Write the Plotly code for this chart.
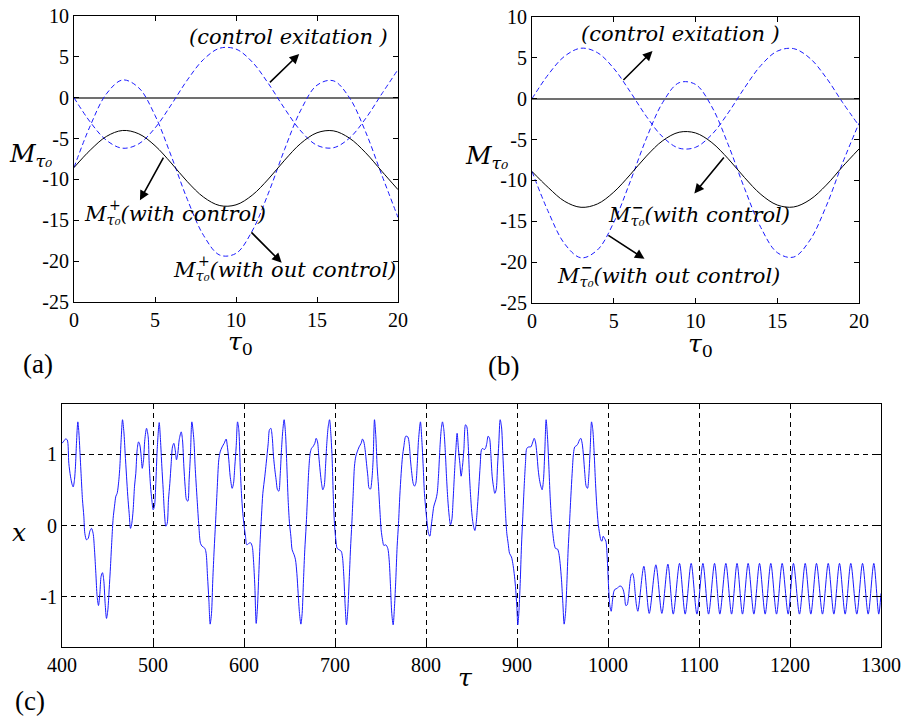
import plotly.graph_objects as go

# ---------------- panel (a) and (b) data -----------------
tau0 = [0, 1, 2, 3, 4, 5, 6, 7, 8, 9, 10, 11, 12, 13, 14, 15, 16, 17, 18, 19, 20]

a_with = [-8.55, -6.42, -4.74, -4.01, -4.42, -5.87, -7.99, -10.28, -12.17, -13.20, -13.11,
          -11.93, -9.95, -7.65, -5.59, -4.29, -4.05, -4.94, -6.73, -9.00, -11.25]
a_without = [-8.55, -3.45, 0.47, 2.17, 1.21, -2.16, -7.12, -12.46, -16.86, -19.26, -19.05,
             -16.31, -11.68, -6.32, -1.52, 1.53, 2.08, 0.01, -4.18, -9.46, -14.65]
a_exc = [0.0, -2.97, -5.21, -6.18, -5.64, -3.71, -0.87, 2.18, 4.69, 6.06, 5.95,
         4.38, 1.73, -1.33, -4.07, -5.82, -6.13, -4.95, -2.55, 0.47, 3.45]

b_with = [-8.9, -10.88, -12.56, -13.29, -12.88, -11.43, -9.31, -7.02, -5.13, -4.10, -4.19,
          -5.37, -7.35, -9.65, -11.71, -13.01, -13.25, -12.36, -10.57, -8.30, -6.15]
b_without = [-8.9, -13.85, -17.77, -19.47, -18.51, -15.14, -10.18, -4.84, -0.44, 1.96, 1.75,
             -0.99, -5.62, -10.98, -15.78, -18.83, -19.38, -17.31, -13.12, -7.84, -3.0]
b_exc = [0.0, 2.97, 5.21, 6.18, 5.64, 3.71, 0.87, -2.18, -4.69, -6.06, -5.95,
         -4.38, -1.73, 1.33, 4.07, 5.82, 6.13, 4.95, 2.55, -0.47, -3.3]

m_tickvals = [10, 5, 0, -5, -10, -15, -20, -25]
m_ticktext = ["10", "5", "0", "-5", "-10", "-15", "-20", "-25"]
tau0_tickvals = [0, 5, 10, 15, 20]

# ---------------- panel (c) data -----------------
tau_c = [
    400.0, 402.0, 403.8, 405.7, 407.5, 409.3, 411.2, 412.3, 413.7, 414.8, 415.9, 417.4, 418.5, 419.6,
    421.1, 422.5, 424.0, 425.1, 426.9, 428.8, 430.6, 432.4, 434.2, 435.7, 437.2, 438.6, 440.1, 441.6,
    443.0, 444.5, 446.0, 447.4, 448.9, 450.4, 451.8, 453.3, 454.8, 456.2, 457.7, 459.2, 460.6, 462.5,
    463.6, 465.0, 466.5, 468.0, 469.4, 470.9, 472.3, 473.8, 475.3, 476.7, 478.2, 479.7, 481.1, 482.6,
    484.1, 485.5, 487.0, 488.2, 489.6, 491.0, 492.9, 494.7, 495.8, 497.3, 498.7, 500.2, 501.6, 503.1,
    504.6, 506.8, 508.2, 509.7, 511.2, 512.6, 514.1, 515.6, 517.0, 518.5, 520.0, 521.4, 522.9, 524.4,
    525.8, 527.3, 528.8, 531.0, 532.4, 533.9, 535.3, 536.8, 538.3, 539.7, 541.2, 542.7, 544.9, 546.3,
    548.5, 550.4, 552.2, 554.0, 557.0, 558.4, 559.9, 561.4, 562.8, 564.3, 565.7, 567.2, 568.7, 570.5,
    572.3, 573.8, 576.0, 578.2, 580.4, 581.5, 583.3, 584.8, 587.0, 588.5, 589.9, 591.4, 592.9, 594.3,
    595.8, 597.2, 598.7, 600.2, 601.6, 603.1, 605.3, 607.1, 609.0, 610.4, 611.9, 613.4, 614.8, 616.3,
    617.8, 619.2, 620.7, 622.9, 624.4, 626.6, 628.0, 629.5, 631.0, 632.4, 633.9, 635.3, 636.8, 638.3,
    639.7, 641.2, 642.7, 644.1, 645.6, 647.1, 648.5, 650.0, 651.5, 652.9, 655.1, 656.6, 658.1, 659.5,
    661.0, 662.5, 663.9, 665.4, 666.8, 668.3, 669.8, 671.2, 672.7, 674.2, 675.6, 677.8, 679.3, 680.8,
    682.2, 683.7, 685.2, 686.6, 688.1, 689.6, 691.0, 692.5, 694.0, 695.4, 696.9, 698.0, 699.4, 700.9,
    702.4, 704.6, 706.8, 708.2, 709.7, 711.2, 712.6, 714.1, 715.6, 717.0, 718.5, 720.0, 721.4, 722.9,
    724.4, 726.5, 728.7, 730.2, 731.7, 733.1, 734.6, 736.1, 737.5, 739.0, 740.5, 741.9, 743.4, 744.9,
    746.3, 747.8, 749.3, 750.7, 752.2, 753.7, 755.8, 758.0, 759.5, 761.0, 762.4, 763.9, 765.4, 766.8,
    768.3, 769.8, 771.2, 772.7, 774.2, 775.6, 777.8, 780.0, 781.5, 782.9, 784.4, 785.9, 787.4, 788.8,
    790.3, 791.8, 793.9, 795.4, 796.9, 798.3, 799.8, 801.3, 802.7, 804.2, 805.7, 807.1, 808.6, 810.8,
    812.3, 813.7, 815.2, 816.7, 818.1, 819.6, 821.1, 822.5, 824.0, 825.5, 826.9, 828.4, 829.8, 831.3,
    832.8, 834.2, 835.7, 837.2, 838.6, 840.1, 841.6, 843.4, 844.9, 846.3, 847.8, 849.3, 850.7, 852.2,
    853.7, 855.1, 856.6, 858.1, 859.5, 861.0, 862.4, 863.9, 865.4, 866.8, 868.3, 869.8, 871.2, 872.7,
    874.2, 875.6, 877.1, 878.6, 880.0, 881.5, 883.0, 884.4, 885.9, 887.4, 888.8, 890.3, 891.8, 893.9,
    895.4, 896.9, 898.3, 899.8, 900.9, 902.0, 903.5, 904.9, 906.4, 907.9, 909.3, 910.8, 913.0, 915.2,
    917.4, 918.9, 920.3, 921.8, 923.3, 924.7, 926.2, 927.6, 929.1, 930.6, 932.0, 933.5, 935.0, 936.4,
    937.9, 939.4, 940.8, 942.3, 944.5, 946.0, 947.4, 948.9, 950.4, 951.8, 953.3, 954.8, 956.2, 957.7,
    959.2, 960.6, 962.1, 963.5, 965.7, 967.2, 968.7, 970.1, 971.6, 973.1, 974.5, 976.0, 977.5, 978.9,
    980.4, 981.9, 983.3, 984.8, 986.3, 987.7, 989.2, 990.7, 992.1, 993.3, 994.7, 996.2, 997.7, 999.1,
    1000.6, 1002.1, 1003.5, 1005.0, 1006.5, 1007.9, 1010.1, 1012.3, 1014.5, 1016.7, 1018.2, 1019.6,
    1021.1, 1022.6, 1024.0, 1025.5, 1027.0, 1028.4, 1029.9, 1031.4, 1032.8,
    1039.4, 1045.3, 1052.6, 1059.2, 1065.8, 1071.7, 1078.6, 1084.8, 1091.4, 1097.7, 1104.3, 1110.5,
    1117.1, 1122.9, 1129.5, 1135.8, 1141.8, 1147.8, 1154.0, 1160.3, 1166.5, 1172.7, 1178.9, 1185.2,
    1191.4, 1198.0, 1203.8, 1210.4, 1216.7, 1222.9, 1229.1, 1235.7, 1242.0, 1248.2, 1254.4, 1260.6,
    1266.8, 1273.4, 1279.7, 1285.9, 1292.1, 1297.5, 1300.0,
]
x_c = [
    1.15, 1.18, 1.21, 1.20, 0.87, 0.69, 0.57, 0.54, 0.64, 0.83, 1.15, 1.45, 1.31, 1.06,
    0.69, 0.36, 0.13, -0.11, -0.20, -0.18, -0.08, -0.04, -0.11, -0.34, -0.67, -0.99, -1.12, -0.95,
    -0.71, -0.66, -0.78, -1.09, -1.30, -1.18, -0.90, -0.57, -0.20, 0.10, 0.27, 0.41, 0.45, 0.64,
    0.83, 1.20, 1.48, 1.31, 1.01, 0.69, 0.41, 0.17, -0.04, 0.03, 0.22, 0.55, 0.73, 1.06,
    1.17, 1.13, 0.97, 0.80, 0.92, 1.20, 1.36, 1.24, 0.87, 0.55, 0.36, 0.22, 0.27, 0.59,
    1.06, 1.44, 1.20, 0.83, 0.50, 0.17, -0.01, 0.03, 0.36, 0.59, 0.87, 1.10, 1.15, 1.06,
    0.92, 1.01, 1.20, 1.31, 1.20, 0.83, 0.55, 0.36, 0.34, 0.64, 1.01, 1.45, 1.20, 0.83,
    0.36, -0.01, -0.25, -0.29, -0.32, -0.39, -0.71, -1.04, -1.38, -1.23, -0.76, -0.34, 0.03, 0.50,
    0.92, 1.03, 1.10, 1.15, 1.21, 1.13, 0.92, 0.69, 0.52, 0.59, 0.83, 1.10, 1.45, 1.34,
    0.83, 0.45, 0.17, -0.01, -0.15, -0.27, -0.25, -0.24, -0.29, -0.48, -0.85, -1.37, -1.14, -0.67,
    -0.20, 0.13, 0.45, 0.69, 0.87, 1.15, 1.34, 1.36, 1.24, 0.97, 0.78, 0.64, 0.50, 0.48,
    0.69, 1.06, 1.34, 1.48, 1.29, 0.83, 0.36, 0.03, -0.15, -0.34, -0.41, -0.48, -0.67, -0.95,
    -1.23, -1.38, -1.23, -0.76, -0.34, -0.01, 0.41, 0.78, 1.01, 1.08, 1.10, 1.15, 1.22, 1.17,
    0.97, 0.76, 0.59, 0.50, 0.55, 0.83, 1.15, 1.38, 1.48, 1.29, 0.92, 0.45, 0.03, -0.20,
    -0.32, -0.34, -0.36, -0.44, -0.71, -1.13, -1.39, -1.18, -0.76, -0.34, 0.03, 0.45, 0.83, 0.97,
    1.03, 1.10, 1.15, 1.21, 1.17, 1.06, 0.87, 0.69, 0.52, 0.51, 0.64, 0.92, 1.48, 1.24,
    0.83, 0.55, 0.22, -0.06, -0.20, -0.28, -0.27, -0.32, -0.48, -0.85, -1.23, -1.39, -1.13, -0.76,
    -0.29, 0.03, 0.41, 0.73, 0.97, 1.10, 1.25, 1.24, 1.15, 0.92, 0.73, 0.59, 0.55, 0.59,
    0.83, 1.20, 1.45, 1.20, 0.83, 0.45, 0.22, 0.03, -0.11, -0.15, -0.01, 0.13, 0.27, 0.36,
    0.45, 0.69, 1.06, 1.34, 1.45, 1.34, 1.06, 0.69, 0.36, 0.13, 0.01, 0.08, 0.36, 0.73,
    1.06, 1.29, 1.06, 0.87, 0.69, 0.83, 1.06, 1.41, 1.38, 1.15, 0.69, 0.36, 0.13, -0.01,
    -0.07, 0.03, 0.27, 0.55, 0.83, 1.06, 1.08, 1.06, 1.08, 1.15, 1.25, 1.22, 1.01, 0.69,
    0.54, 0.45, 0.50, 0.83, 1.15, 1.48, 1.38, 1.01, 0.59, 0.17, -0.11, -0.25, -0.39, -0.44,
    -0.53, -0.67, -0.85, -1.13, -1.39, -1.23, -0.81, -0.29, 0.13, 0.55, 0.87, 1.08, 1.10, 1.10,
    1.17, 1.22, 1.17, 1.01, 0.78, 0.64, 0.55, 0.50, 0.64, 1.06, 1.48, 1.24, 0.83, 0.41,
    0.08, -0.11, -0.25, -0.32, -0.33, -0.39, -0.53, -0.76, -1.09, -1.38, -1.23, -0.81, -0.34, 0.03,
    0.41, 0.73, 1.01, 1.10, 1.12, 1.15, 1.20, 1.22, 1.15, 0.97, 0.73, 0.55, 0.52, 0.69,
    1.06, 1.45, 1.34, 1.01, 0.59, 0.27, 0.03, -0.11, -0.20, -0.22, -0.15, -0.18, -0.22, -0.44,
    -0.85, -1.13, -1.20, -1.04, -0.92, -0.89, -0.88, -0.85, -0.85, -0.90, -0.99, -1.12,
    -1.11, -0.99, -0.81, -0.69, -0.67, -0.74, -0.95, -1.13, -1.20,
    -0.57, -1.23, -0.55, -1.23, -0.54, -1.24, -0.53, -1.24, -0.53, -1.24, -0.53, -1.24,
    -0.53, -1.24, -0.53, -1.24, -0.53, -1.24, -0.53, -1.24, -0.53, -1.24, -0.53, -1.24,
    -0.53, -1.24, -0.53, -1.24, -0.53, -1.24, -0.53, -1.24, -0.53, -1.24, -0.53, -1.24,
    -0.53, -1.24, -0.53, -1.24, -0.53, -1.24, -0.95,
]
c_xtickvals = [400, 500, 600, 700, 800, 900, 1000, 1100, 1200, 1300]
c_ytickvals = [-1, 0, 1]
c_yticktext = ["-1", "0", "1"]

# ---------------- figure -----------------
W, H = 905, 716
SERIF = "Liberation Serif"
MATH = "DejaVu Serif"
BLUE = "#1a1aff"
DASH = "5px,3px"

fig = go.Figure()


def add_panel(xa, ya, with_c, without_c, exc):
    fig.add_trace(go.Scatter(x=tau0, y=exc, mode="lines", line=dict(color=BLUE, width=1, dash=DASH, shape="spline"),
                             xaxis=xa, yaxis=ya, hoverinfo="skip"))
    fig.add_trace(go.Scatter(x=tau0, y=without_c, mode="lines", line=dict(color=BLUE, width=1, dash=DASH, shape="spline"),
                             xaxis=xa, yaxis=ya, hoverinfo="skip"))
    fig.add_trace(go.Scatter(x=tau0, y=with_c, mode="lines", line=dict(color="black", width=1, shape="spline"),
                             xaxis=xa, yaxis=ya, hoverinfo="skip"))


add_panel("x", "y", a_with, a_without, a_exc)
add_panel("x2", "y2", b_with, b_without, b_exc)

fig.add_trace(go.Scatter(x=tau_c, y=x_c, mode="lines", line=dict(color=BLUE, width=1, shape="spline", smoothing=0.8),
                         xaxis="x3", yaxis="y3", hoverinfo="skip"))

tick_font = dict(family=SERIF, size=20, color="black")
common_ax = dict(showline=True, linecolor="black", linewidth=1, mirror="ticks", ticks="inside",
                 ticklen=5, tickcolor="black", tickfont=tick_font, showgrid=False, automargin=False)


def px2x(px):
    return px / W


def py2y(py):
    return 1 - py / H


fig.update_layout(
    width=W, height=H, margin=dict(l=0, r=0, t=0, b=0, autoexpand=False),
    paper_bgcolor="white", plot_bgcolor="white", showlegend=False,
    xaxis=dict(domain=[px2x(74), px2x(398)], range=[0, 20], tickvals=tau0_tickvals, anchor="y",
               zeroline=False, **common_ax),
    yaxis=dict(domain=[py2y(302), py2y(16)], range=[-25, 10], tickvals=m_tickvals, ticktext=m_ticktext,
               anchor="x", zeroline=True, zerolinecolor="#707070", zerolinewidth=2, **common_ax),
    xaxis2=dict(domain=[px2x(532), px2x(859)], range=[0, 20], tickvals=tau0_tickvals, anchor="y2",
                zeroline=False, **common_ax),
    yaxis2=dict(domain=[py2y(303), py2y(17)], range=[-25, 10], tickvals=m_tickvals, ticktext=m_ticktext,
                anchor="x2", zeroline=True, zerolinecolor="#707070", zerolinewidth=2, **common_ax),
    xaxis3=dict(domain=[px2x(62), px2x(881)], range=[400, 1300], tickvals=c_xtickvals, anchor="y3",
                zeroline=False, **{**common_ax, "showgrid": True}, gridcolor="black", griddash="5px,4px",
                gridwidth=1),
    yaxis3=dict(domain=[py2y(647), py2y(404)], range=[-1.7, 1.7], tickvals=c_ytickvals, ticktext=c_yticktext,
                anchor="x3", zeroline=False, **{**common_ax, "showgrid": True}, gridcolor="black",
                griddash="5px,4px", gridwidth=1),
)

ann = []


def paper_text(text, px, py, size, family=SERIF, xanchor="center"):
    ann.append(dict(text=text, x=px2x(px), y=py2y(py), xref="paper", yref="paper", showarrow=False,
                    xanchor=xanchor, yanchor="middle", font=dict(family=family, size=size, color="black")))


def data_text(text, x, y, xr, yr, size=21, xanchor="left"):
    ann.append(dict(text=text, x=x, y=y, xref=xr, yref=yr, showarrow=False, xanchor=xanchor, yanchor="middle",
                    font=dict(family=MATH, size=size, color="black")))


def arrow(x0, y0, x1, y1, xr, yr):
    ann.append(dict(text="", x=x1, y=y1, ax=x0, ay=y0, xref=xr, yref=yr, axref=xr, ayref=yr, showarrow=True,
                    arrowhead=2, arrowsize=1.2, arrowwidth=1.6, arrowcolor="black"))


# panel (a)
data_text("<i>(control exitation )</i>", 7.0, 7.4, "x", "y")
data_text("<i>M<sub>τ₀</sub>(with control)</i>", 0.5, -14.3, "x", "y")
data_text("+", 2.5, -13.1, "x", "y", size=14, xanchor="center")
data_text("<i>M<sub>τ₀</sub>(with out control)</i>", 6.0, -21.2, "x", "y")
data_text("+", 8.0, -20.0, "x", "y", size=14, xanchor="center")
arrow(12.0, 1.7, 13.9, 5.35, "x", "y")
arrow(5.57, -7.14, 4.07, -12.56, "x", "y")
arrow(10.86, -16.3, 12.82, -20.2, "x", "y")
paper_text("<i>M<sub>τ₀</sub></i>", 30, 155, 25, MATH)
paper_text("<i>τ</i><sub>0</sub>", 240, 343, 25, MATH)
paper_text("(a)", 38, 364, 27)

# panel (b)
data_text("<i>(control exitation )</i>", 2.85, 7.9, "x2", "y2")
data_text("<i>M<sub>τ₀</sub>(with control)</i>", 4.55, -14.4, "x2", "y2")
data_text("<b>−</b>", 6.5, -13.2, "x2", "y2", size=14, xanchor="center")
data_text("<i>M<sub>τ₀</sub>(with out control)</i>", 1.4, -21.8, "x2", "y2")
data_text("<b>−</b>", 3.35, -20.6, "x2", "y2", size=14, xanchor="center")
arrow(5.5, 2.1, 7.37, 5.84, "x2", "y2")
arrow(11.81, -7.01, 9.93, -11.6, "x2", "y2")
arrow(4.58, -16.6, 6.88, -19.6, "x2", "y2")
paper_text("<i>M<sub>τ₀</sub></i>", 486, 157, 25, MATH)
paper_text("<i>τ</i><sub>0</sub>", 700, 345, 25, MATH)
paper_text("(b)", 503, 366, 27)

# panel (c)
paper_text("<i>x</i>", 19, 532, 25, MATH)
paper_text("<i>τ</i>", 465, 677, 25, MATH)
paper_text("(c)", 30, 701, 27)

fig.update_layout(annotations=ann)
fig.write_html("out.html")
